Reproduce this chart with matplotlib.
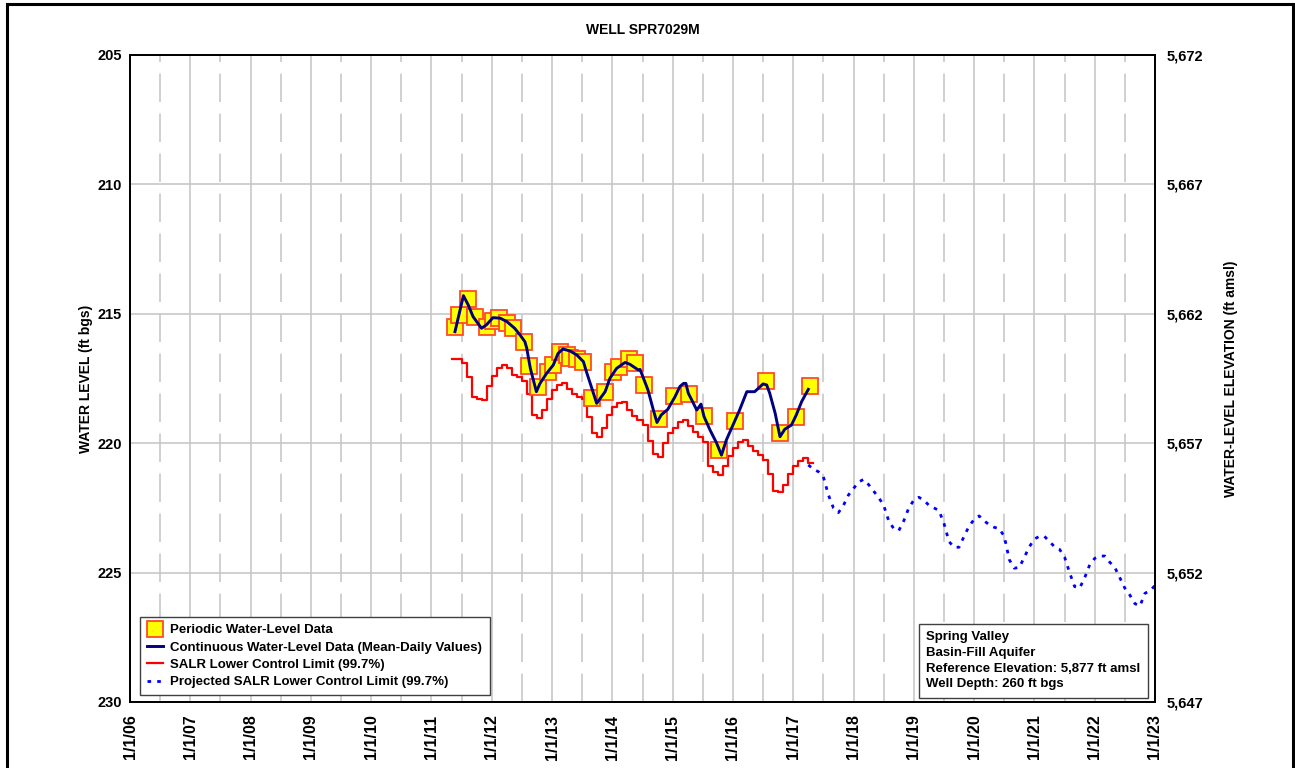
import matplotlib
matplotlib.use("Agg")
import matplotlib.pyplot as plt
from matplotlib.patches import Rectangle
from matplotlib.ticker import FuncFormatter, FixedLocator

plt.rcParams['font.family'] = ['Liberation Sans', 'DejaVu Sans']
plt.rcParams['font.weight'] = 'bold'

# Periodic water-level measurements (decimal year, ft bgs)
periodic_year = [2011.39, 2011.46, 2011.61, 2011.72, 2011.92, 2012.02, 2012.12, 2012.26,
                 2012.36, 2012.53, 2012.61, 2012.76, 2012.94, 2013.02, 2013.13, 2013.24,
                 2013.30, 2013.41, 2013.52, 2013.66, 2013.88, 2014.01, 2014.11, 2014.28,
                 2014.37, 2014.52, 2014.77, 2015.02, 2015.27, 2015.52, 2015.77, 2016.03,
                 2016.54, 2016.78, 2017.04, 2017.28]
periodic_level = [215.51, 215.05, 214.43, 215.13, 215.50, 215.28, 215.17, 215.37,
                  215.56, 216.10, 217.02, 217.81, 217.24, 216.98, 216.46, 216.59,
                  216.70, 216.75, 216.85, 218.27, 218.04, 217.23, 217.04, 216.76,
                  216.91, 217.75, 219.08, 218.18, 218.11, 218.93, 220.26, 219.13,
                  217.58, 219.59, 218.97, 217.79]

# Continuous mean-daily record
cont_year = [2011.39, 2011.53, 2011.61, 2011.69, 2011.83, 2011.91, 2012.02, 2012.14,
             2012.25, 2012.38, 2012.47, 2012.55, 2012.58, 2012.64, 2012.74, 2012.80,
             2012.91, 2013.02, 2013.10, 2013.18, 2013.30, 2013.41, 2013.52, 2013.57,
             2013.66, 2013.74, 2013.82, 2013.88, 2013.96, 2014.07, 2014.21, 2014.29,
             2014.43, 2014.46, 2014.59, 2014.68, 2014.74, 2014.81, 2014.92, 2015.04,
             2015.12, 2015.18, 2015.22, 2015.26, 2015.33, 2015.40, 2015.47, 2015.52,
             2015.62, 2015.73, 2015.81, 2015.89, 2016.00, 2016.11, 2016.23, 2016.36,
             2016.50, 2016.56, 2016.61, 2016.70, 2016.78, 2016.86, 2016.97, 2017.05,
             2017.14, 2017.25]
cont_level = [215.69, 214.30, 214.66, 215.11, 215.56, 215.43, 215.15, 215.17,
              215.30, 215.56, 215.82, 216.08, 216.33, 217.11, 218.01, 217.69,
              217.30, 216.98, 216.53, 216.36, 216.44, 216.59, 216.85, 217.24,
              217.88, 218.46, 218.20, 218.01, 217.49, 217.11, 216.88, 216.95,
              217.17, 217.15, 217.94, 218.72, 219.20, 218.91, 218.69, 218.20,
              217.81, 217.69, 217.69, 218.07, 218.39, 218.72, 218.49, 218.97,
              219.49, 220.00, 220.46, 219.88, 219.30, 218.72, 218.01, 218.01,
              217.71, 217.75, 218.07, 218.84, 219.75, 219.46, 219.30, 218.91,
              218.39, 217.92]

# SALR lower control limit, monthly values starting May 2011
salr_start = 2011 + 4 / 12
salr_level = [216.75, 216.75, 216.90, 217.45, 218.20, 218.30, 218.33, 217.80,
              217.40, 217.10, 216.98, 217.10, 217.35, 217.45, 217.60, 218.10, 218.90, 219.04, 218.70, 218.30,
              217.95, 217.75, 217.69, 217.90, 218.10, 218.20, 218.30, 219.00, 219.60, 219.75, 219.40, 218.90,
              218.60, 218.45, 218.40, 218.70, 218.95, 219.10, 219.30, 219.90, 220.40, 220.52, 220.00, 219.60,
              219.40, 219.20, 219.10, 219.35, 219.55, 219.75, 219.95, 220.90, 221.10, 221.23, 220.90, 220.50,
              220.20, 219.95, 219.88, 220.10, 220.30, 220.45, 220.65, 221.20, 221.85, 221.90, 221.60, 221.20,
              220.90, 220.70, 220.57, 220.75]

# Projected SALR lower control limit, monthly values starting April 2017
proj_start = 2017 + 3 / 12
proj_level = [220.84, 221.00, 221.10, 221.30, 222.00, 222.50, 222.68, 222.40, 222.00,
              221.75, 221.50, 221.40, 221.60, 221.85, 222.10, 222.40, 223.00, 223.30, 223.38, 223.00, 222.50,
              222.20, 222.09, 222.20, 222.40, 222.50, 222.60, 223.10, 223.80, 224.02, 224.02, 223.60, 223.20,
              222.95, 222.81, 223.00, 223.15, 223.25, 223.30, 223.60, 224.50, 224.83, 224.80, 224.40, 224.00,
              223.70, 223.60, 223.60, 223.80, 224.00, 224.10, 224.40, 225.00, 225.54, 225.60, 225.20, 224.70,
              224.45, 224.36, 224.36, 224.60, 224.80, 225.20, 225.60, 225.87, 226.20, 226.29, 225.80, 225.70,
              225.50]

years = list(range(2006, 2024))
year_labels = [f"1/1/{y % 100:02d}" for y in years]
ref_elevation = 5877

fig = plt.figure(figsize=(12.95, 7.68), dpi=100)
ax = fig.add_axes([130 / 1295, 1 - 702 / 768, 1025 / 1295, 647 / 768])

# grid: solid at years and levels, dashed at mid-years
for y in years:
    ax.axvline(y, color='#c8c8c8', lw=1.2, zorder=0)
for y in years[:-1]:
    ax.axvline(y + 0.5, color='#c8c8c8', lw=1.2, ls=(0, (17, 7)), zorder=0)
for lv in [210, 215, 220, 225]:
    ax.axhline(lv, color='#c8c8c8', lw=1.2, zorder=0)

salr_x = [salr_start + i / 12 for i in range(len(salr_level))]
ax.plot(salr_x + [salr_x[-1] + 1 / 12], salr_level + [salr_level[-1]],
        drawstyle='steps-post', color='#ff0000', lw=1.6, zorder=3,
        label='SALR Lower Control Limit (99.7%)')

proj_x = [proj_start + i / 12 for i in range(len(proj_level))]
ax.plot(proj_x, proj_level, color='#0000ff', lw=2.0, ls=(0, (1.3, 2.2)), zorder=3,
        label='Projected SALR Lower Control Limit (99.7%)')

ax.plot(periodic_year, periodic_level, ls='none', marker='s', ms=11.5,
        mfc='#ffff00', mec='#ff4a2a', mew=1.3, zorder=4,
        label='Periodic Water-Level Data')
ax.plot(cont_year, cont_level, color='#000080', lw=2.1, zorder=5,
        label='Continuous Water-Level Data (Mean-Daily Values)')

ax.set_xlim(2006, 2023)
ax.set_ylim(230, 205)
ax.xaxis.set_major_locator(FixedLocator(years))
ax.set_xticklabels(year_labels, rotation=90, fontsize=11.5, fontweight='bold')
ax.yaxis.set_major_locator(FixedLocator([205, 210, 215, 220, 225, 230]))
ax.tick_params(axis='y', length=0, labelsize=10.5, pad=6)
ax.tick_params(axis='x', length=0, pad=9)
for s in ax.spines.values():
    s.set_linewidth(1.3)
ax.set_ylabel('WATER LEVEL (ft bgs)', fontsize=10, fontweight='bold', labelpad=3)

ax2 = ax.twinx()
ax2.set_ylim(ref_elevation - 230, ref_elevation - 205)
ax2.yaxis.set_major_locator(FixedLocator([5647, 5652, 5657, 5662, 5667, 5672]))
ax2.yaxis.set_major_formatter(FuncFormatter(lambda v, p: f"{v:,.0f}"))
ax2.tick_params(axis='y', length=0, labelsize=10.5, pad=8)
ax2.set_ylabel('WATER-LEVEL ELEVATION (ft amsl)', fontsize=10, fontweight='bold', labelpad=15)
for s in ax2.spines.values():
    s.set_linewidth(1.3)

ax.set_title('WELL SPR7029M', fontsize=10, fontweight='bold', pad=15)

handles, labels = ax.get_legend_handles_labels()
order = [2, 3, 0, 1]
leg = ax.legend([handles[i] for i in order], [labels[i] for i in order],
                loc='lower left', bbox_to_anchor=(0.006, 0.004), fontsize=9.5,
                frameon=True, fancybox=False, edgecolor='#404040', framealpha=1,
                borderpad=0.55, handlelength=1.15, handletextpad=0.6, labelspacing=0.38,
                borderaxespad=0.3)
leg.get_frame().set_linewidth(1.0)
for t in leg.get_texts():
    t.set_fontweight('bold')

info = ("Spring Valley\nBasin-Fill Aquifer\n"
        "Reference Elevation: 5,877 ft amsl\nWell Depth: 260 ft bgs")
ax.text(0.777, 0.018, info, transform=ax.transAxes, fontsize=9.5, fontweight='bold',
        va='bottom', ha='left', linespacing=1.42, zorder=10,
        bbox=dict(boxstyle='square,pad=0.55', fc='white', ec='#404040', lw=1.0))

fig.patches.append(Rectangle((7 / 1295, -0.01), 1286 / 1295, 1.01 - 4 / 768,
                             transform=fig.transFigure, fill=False,
                             ec='black', lw=2.2))

fig.savefig('out.png', dpi=100)
